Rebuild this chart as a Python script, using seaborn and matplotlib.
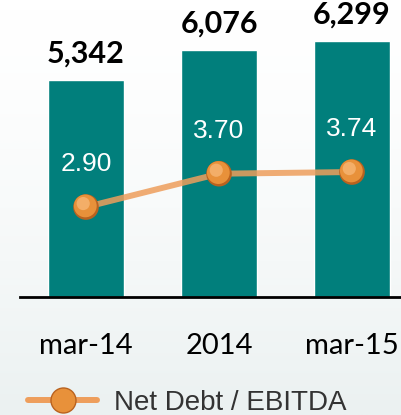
import numpy as np
import pandas as pd
import matplotlib
import matplotlib.pyplot as plt
import matplotlib.transforms as mtransforms
from matplotlib.colors import LinearSegmentedColormap
from matplotlib.lines import Line2D
import seaborn as sns

matplotlib.use('Agg')

# data
periods = ["mar-14", "2014", "mar-15"]
net_debt = [5342, 6076, 6299]
debt_ratio = [2.90, 3.70, 3.74]
ratio_labels = ["2.90", "3.70", "3.74"]

df = pd.DataFrame({"period": periods, "net_debt": net_debt, "ratio": debt_ratio})

sns.set_theme(style="white")
plt.rcParams['font.family'] = ['Lato', 'DejaVu Sans']

TEAL = "#017F7C"
ORANGE = "#E8913A"
LINE = "#EE9E5C"

fig = plt.figure(figsize=(4.01, 4.15), dpi=100)

# faint background gradient
bg = fig.add_axes([0, 0, 1, 1], zorder=-5)
grad = np.linspace(0, 1, 256).reshape(-1, 1) ** 1.5
cmap = LinearSegmentedColormap.from_list("bg", ["#FFFFFF", "#EBF1F1"])
bg.imshow(grad, aspect="auto", cmap=cmap, extent=[0, 1, 0, 1], origin="upper")
bg.axis("off")

ax = fig.add_axes([20 / 401, 118 / 415, 381 / 401, 297 / 415])
ax.patch.set_alpha(0)
sns.barplot(data=df, x="period", y="net_debt", color=TEAL, saturation=1,
            width=0.57, ax=ax)
ax.set_ylim(0, 7306)
ax.set_xlim(-0.496, 2.368)
ax.bar_label(ax.containers[0], labels=[f"{v:,}" for v in net_debt],
             padding=9, fontsize=22, fontweight="bold", color="black")
ax.set_xlabel("")
ax.set_ylabel("")
ax.set_yticks([])
ax.tick_params(axis="x", length=0, pad=26, labelsize=21, colors="black")
for s in ["top", "right", "left"]:
    ax.spines[s].set_visible(False)
ax.spines["bottom"].set_color("black")
ax.spines["bottom"].set_linewidth(2)

ax2 = ax.twinx()
ax2.patch.set_alpha(0)
xpos = np.arange(len(periods))
sns.lineplot(x=xpos, y=debt_ratio, color=LINE, linewidth=4.3, alpha=0.85, ax=ax2)
# sphere-like markers: darker rim, body, soft highlight
sns.scatterplot(x=xpos, y=debt_ratio, s=340, color="#B9621F", edgecolor="none",
                ax=ax2, zorder=5)
body = mtransforms.offset_copy(ax2.transData, fig=fig, x=-0.5, y=0.8, units="points")
ax2.scatter(xpos, debt_ratio, s=270, color=ORANGE, edgecolor="none",
            transform=body, zorder=6)
hl = mtransforms.offset_copy(ax2.transData, fig=fig, x=-2, y=2.5, units="points")
ax2.scatter(xpos, debt_ratio, s=90, color="#F3AE68", edgecolor="none",
            transform=hl, zorder=7)
ax2.set_ylim(0.74, 7.87)
ax2.set_yticks([])
ax2.set_ylabel("")
for s in ax2.spines.values():
    s.set_visible(False)
ax2.set_xlim(-0.496, 2.368)

for x, y, t in zip(xpos, debt_ratio, ratio_labels):
    ax2.annotate(t, (x, y), xytext=(0, 31), textcoords="offset points",
                 ha="center", va="center", color="white", fontsize=19,
                 family=["Liberation Sans", "DejaVu Sans"])

handle = Line2D([], [], color=LINE, linewidth=4.3, marker="o", markersize=18,
                markerfacecolor=ORANGE, markeredgecolor="#B9621F")
fig.legend([handle], ["Net Debt / EBITDA"], loc="center left",
           bbox_to_anchor=(28 / 401, 12 / 415), frameon=False,
           handlelength=2.5, handletextpad=0.6, borderpad=0, borderaxespad=0,
           prop={"family": ["Liberation Sans", "DejaVu Sans"], "size": 20})
for txt in fig.legends[0].get_texts():
    txt.set_color("#333333")

fig.savefig("out.png", dpi=100)
